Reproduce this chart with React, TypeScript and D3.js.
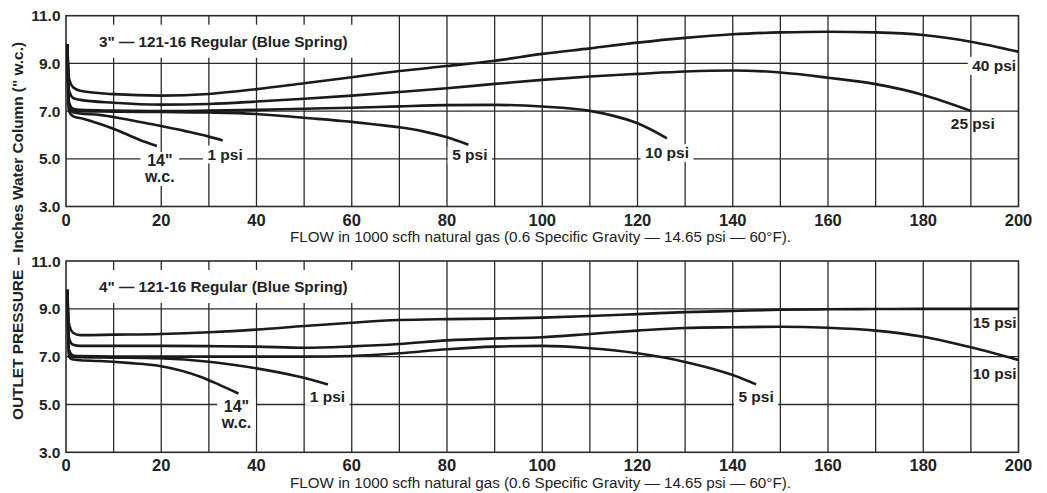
import React from "react";
import * as d3 from "d3";

type Pt = [number, number];

// ---------- data ----------
const X_TICKS = [0, 20, 40, 60, 80, 100, 120, 140, 160, 180, 200];
const X_GRID = [10, 20, 30, 40, 50, 60, 70, 80, 90, 100, 110, 120, 130, 140, 150, 160, 170, 180, 190];
const Y_TICKS = [3, 5, 7, 9, 11];
const Y_GRID = [5, 7, 9];
const X_TITLE = "FLOW in 1000 scfh natural gas (0.6 Specific Gravity — 14.65 psi — 60°F).";
const Y_TITLE = "OUTLET PRESSURE – Inches Water Column (\" w.c.)";

// 3" regulator
const TOP_14WC: Pt[] = [[0.3, 9.8], [0.6, 7.0], [1.5, 6.78], [3.6, 6.68], [7, 6.47], [10.6, 6.21], [15.5, 5.79], [19.1, 5.54]];
const TOP_1PSI: Pt[] = [[0.3, 9.8], [0.6, 7.2], [1.5, 6.95], [3, 6.9], [7, 6.84], [12, 6.68], [17.5, 6.47], [25.3, 6.15], [30, 5.93], [32.9, 5.77]];
const TOP_5PSI: Pt[] = [[0.3, 9.8], [0.6, 7.3], [1.5, 7.05], [3, 7.0], [10, 6.98], [20, 6.96], [30, 6.94], [40, 6.88], [50, 6.72], [60, 6.55], [65, 6.44], [70, 6.32], [75, 6.15], [80, 5.9], [84.5, 5.59]];
const TOP_10PSI: Pt[] = [[0.3, 9.8], [0.6, 7.4], [1.5, 7.1], [3, 7.05], [10, 7.02], [20, 7.0], [30, 7.02], [40, 7.05], [50, 7.1], [60, 7.14], [70, 7.2], [80, 7.25], [90, 7.26], [100, 7.19], [110, 7.01], [115, 6.8], [120, 6.49], [126.2, 5.86]];
const TOP_25PSI: Pt[] = [[0.3, 9.8], [0.6, 7.9], [1.5, 7.55], [3, 7.47], [10, 7.35], [20, 7.27], [30, 7.3], [40, 7.4], [50, 7.52], [60, 7.65], [70, 7.8], [80, 7.96], [90, 8.14], [100, 8.31], [110, 8.45], [120, 8.56], [130, 8.66], [140, 8.7], [150, 8.62], [160, 8.4], [170, 8.13], [180, 7.68], [190, 7.01]];
const TOP_40PSI: Pt[] = [[0.3, 9.8], [0.6, 8.4], [1.5, 8.0], [3, 7.85], [10, 7.71], [20, 7.65], [30, 7.72], [40, 7.92], [50, 8.17], [60, 8.42], [70, 8.68], [80, 8.89], [90, 9.11], [100, 9.4], [110, 9.63], [120, 9.87], [130, 10.07], [140, 10.22], [150, 10.3], [160, 10.33], [170, 10.3], [180, 10.19], [190, 9.91], [200, 9.49]];

// 4" regulator
const BOT_14WC: Pt[] = [[0.3, 9.8], [0.6, 7.0], [1.5, 6.88], [3, 6.85], [7, 6.82], [13, 6.74], [19.7, 6.61], [28.2, 6.16], [32, 5.84], [36.2, 5.46]];
const BOT_1PSI: Pt[] = [[0.3, 9.8], [0.6, 7.2], [1.5, 7.0], [3, 6.98], [10, 6.96], [19.5, 6.93], [30, 6.79], [40, 6.51], [49, 6.16], [55, 5.84]];
const BOT_5PSI: Pt[] = [[0.3, 9.8], [0.6, 7.3], [1.5, 7.05], [3, 7.02], [10, 7.0], [20, 7.0], [30, 7.0], [40, 7.0], [50, 7.0], [60, 7.03], [70, 7.14], [80, 7.31], [90, 7.42], [100, 7.45], [110, 7.35], [120, 7.14], [130, 6.78], [140, 6.23], [144.9, 5.84]];
const BOT_10PSI: Pt[] = [[0.3, 9.8], [0.6, 7.8], [1.5, 7.5], [3, 7.45], [10, 7.45], [20, 7.45], [30, 7.44], [40, 7.42], [50, 7.37], [60, 7.43], [70, 7.53], [80, 7.68], [90, 7.76], [100, 7.81], [110, 7.95], [120, 8.09], [130, 8.2], [140, 8.23], [150, 8.25], [160, 8.21], [170, 8.09], [180, 7.83], [190, 7.39], [200, 6.86]];
const BOT_15PSI: Pt[] = [[0.3, 9.8], [0.6, 8.4], [1.5, 8.0], [3, 7.9], [10, 7.92], [20, 7.95], [30, 8.02], [40, 8.13], [50, 8.28], [60, 8.42], [70, 8.53], [80, 8.57], [90, 8.59], [100, 8.63], [110, 8.7], [120, 8.78], [130, 8.86], [140, 8.91], [150, 8.96], [160, 8.98], [170, 8.99], [180, 9.0], [190, 9.0], [200, 9.0]];

// curve labels: text lines, anchor in data units, whether a white box breaks the grid
type Label = { lines: string[]; x: number; y: number; box: boolean; size: number };
const TOP_LABELS: Label[] = [
  { lines: ["14\"", "w.c."], x: 19.7, y: 4.7, box: true, size: 16 },
  { lines: ["1 psi"], x: 33.4, y: 4.97, box: true, size: 15.5 },
  { lines: ["5 psi"], x: 84.8, y: 4.93, box: true, size: 15.5 },
  { lines: ["10 psi"], x: 126.2, y: 5.03, box: true, size: 15.5 },
  { lines: ["40 psi"], x: 194.9, y: 8.69, box: true, size: 15.5 },
  { lines: ["25 psi"], x: 190.4, y: 6.24, box: false, size: 15.5 },
];
const BOT_LABELS: Label[] = [
  { lines: ["14\"", "w.c."], x: 35.8, y: 4.7, box: true, size: 16 },
  { lines: ["1 psi"], x: 54.9, y: 5.12, box: true, size: 15.5 },
  { lines: ["5 psi"], x: 144.9, y: 5.09, box: true, size: 15.5 },
  { lines: ["15 psi"], x: 195, y: 8.19, box: false, size: 15.5 },
  { lines: ["10 psi"], x: 195, y: 6.06, box: false, size: 15.5 },
];

const TOP_TITLE = "3\" — 121-16 Regular (Blue Spring)";
const BOT_TITLE = "4\" — 121-16 Regular (Blue Spring)";

// ---------- layout ----------
const W = 1047;
const H = 493;
const FONT = "'Liberation Sans', Arial, Helvetica, sans-serif";
const x = d3.scaleLinear().domain([0, 200]).range([66, 1018.5]);

let canvasCtx: CanvasRenderingContext2D | null = null;
function measure(text: string, size: number, bold = true): number {
  if (!canvasCtx) canvasCtx = document.createElement("canvas").getContext("2d");
  if (!canvasCtx) return text.length * size * 0.55;
  canvasCtx.font = `${bold ? "bold " : ""}${size}px ${FONT}`;
  return canvasCtx.measureText(text).width;
}

type PanelProps = {
  yRange: [number, number];
  title: string;
  series: Pt[][];
  labels: Label[];
};

function Panel({ yRange, title, series, labels }: PanelProps) {
  const y = d3.scaleLinear().domain([3, 11]).range(yRange);
  const line = d3
    .line<Pt>()
    .x((d) => x(d[0]))
    .y((d) => y(d[1]))
    .curve(d3.curveMonotoneX);
  const gridColor = "#2a2a2a";
  const titleW = measure(title, 15.3);
  const titleBase = y(11) + 31;
  return (
    <g>
      {X_GRID.map((v) => (
        <line key={"vx" + v} x1={x(v)} x2={x(v)} y1={y(3)} y2={y(11)} stroke={gridColor} strokeWidth={1.3} />
      ))}
      {Y_GRID.map((v) => (
        <line key={"hy" + v} x1={x(0)} x2={x(200)} y1={y(v)} y2={y(v)} stroke={gridColor} strokeWidth={1.3} />
      ))}
      {/* title box */}
      <rect x={x(0) + 26} y={titleBase - 22} width={titleW + 16} height={33} fill="#fff" />
      <text x={x(0) + 33} y={titleBase} fontFamily={FONT} fontWeight="bold" fontSize={15.3} fill="#222">
        {title}
      </text>
      {/* label boxes */}
      {labels
        .filter((l) => l.box)
        .map((l, i) => {
          const w = Math.max(...l.lines.map((s) => measure(s, l.size))) + 9;
          const h = l.lines.length > 1 ? 34 : 18;
          return <rect key={"lb" + i} x={x(l.x) - w / 2} y={y(l.y) - 14} width={w} height={h} fill="#fff" />;
        })}
      <rect x={x(0)} y={y(11)} width={x(200) - x(0)} height={y(3) - y(11)} fill="none" stroke={gridColor} strokeWidth={1.6} />
      {series.map((s, i) => (
        <path key={"s" + i} d={line(s) || ""} fill="none" stroke="#1a1a1a" strokeWidth={2.6} strokeLinejoin="round" />
      ))}
      {labels.map((l, i) => (
        <text key={"lt" + i} x={x(l.x)} y={y(l.y)} textAnchor="middle" fontFamily={FONT} fontWeight="bold" fontSize={l.size} fill="#222">
          {l.lines.map((s, j) => (
            <tspan key={j} x={x(l.x)} dy={j === 0 ? 0 : 16}>
              {s}
            </tspan>
          ))}
        </text>
      ))}
      {Y_TICKS.map((v) => (
        <text key={"yt" + v} x={60.5} y={y(v) + 5.5} textAnchor="end" fontFamily={FONT} fontWeight="bold" fontSize={15.5} fill="#222">
          {v.toFixed(1)}
        </text>
      ))}
      {X_TICKS.map((v) => (
        <text key={"xt" + v} x={x(v)} y={y(3) + 19} textAnchor="middle" fontFamily={FONT} fontWeight="bold" fontSize={16.5} fill="#222">
          {v}
        </text>
      ))}
      <text x={290} y={y(3) + 35.5} fontFamily={FONT} fontSize={15.2} fill="#222" textLength={501} lengthAdjust="spacingAndGlyphs">
        {X_TITLE}
      </text>
    </g>
  );
}

export default function App() {
  return (
    <div style={{ position: "absolute", left: 0, top: 0 }}>
      <svg width={W} height={H} viewBox={`0 0 ${W} ${H}`} style={{ display: "block", background: "#fff" }}>
        <rect x={0} y={0} width={W} height={H} fill="#fff" />
        <Panel
          yRange={[206.5, 15.7]}
          title={TOP_TITLE}
          series={[TOP_14WC, TOP_1PSI, TOP_5PSI, TOP_10PSI, TOP_25PSI, TOP_40PSI]}
          labels={TOP_LABELS}
        />
        <Panel
          yRange={[452.3, 261]}
          title={BOT_TITLE}
          series={[BOT_14WC, BOT_1PSI, BOT_5PSI, BOT_10PSI, BOT_15PSI]}
          labels={BOT_LABELS}
        />
        <text
          transform="translate(23,231) rotate(-90)"
          textAnchor="middle"
          fontFamily={FONT}
          fontWeight="bold"
          fontSize={15.3}
          fill="#222"
          textLength={378}
          lengthAdjust="spacingAndGlyphs"
        >
          {Y_TITLE}
        </text>
      </svg>
    </div>
  );
}
